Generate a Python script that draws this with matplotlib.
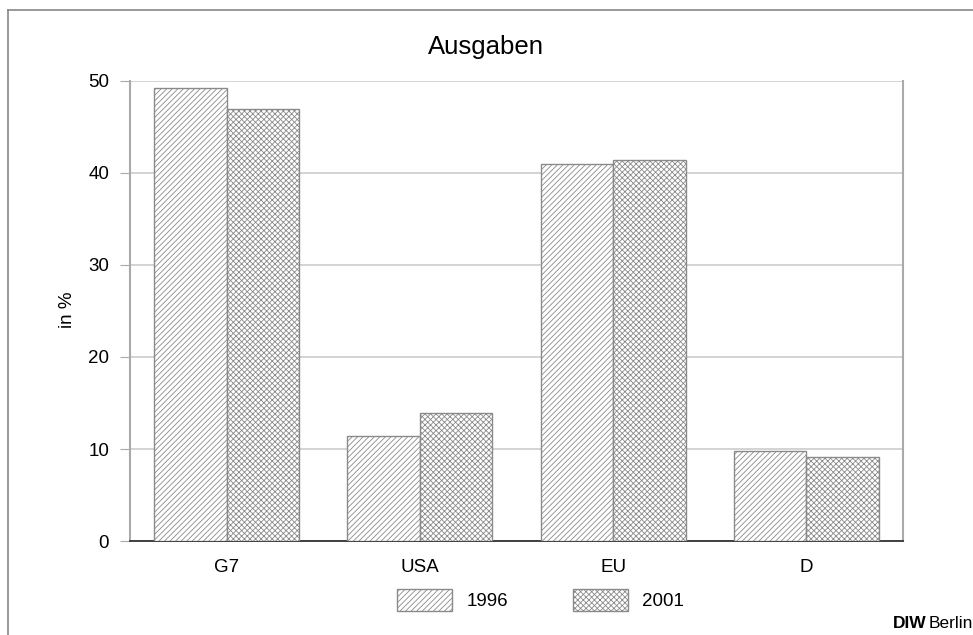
import numpy as np
import matplotlib
matplotlib.use("Agg")
import matplotlib.pyplot as plt
from matplotlib.lines import Line2D
from matplotlib import font_manager

plt.rcParams["font.family"] = ["Liberation Sans", "DejaVu Sans"]
plt.rcParams["hatch.linewidth"] = 0.6

# data
categories = ["G7", "USA", "EU", "D"]
years = ["1996", "2001"]
values_1996 = [49.2, 11.4, 41.0, 9.8]
values_2001 = [47.0, 13.9, 41.4, 9.1]
hatches = ["//////", "xxxxxx"]

W, H = 973, 635
fig = plt.figure(figsize=(W / 100, H / 100), dpi=100)
ax = fig.add_axes([130 / W, 1 - 541 / H, (903 - 130) / W, (541 - 81) / H])

x = np.arange(len(categories))
bw = 0.375
gray = "#8a8a8a"
for i, (vals, hatch, label) in enumerate(zip([values_1996, values_2001], hatches, years)):
    ax.bar(x + (i - 0.5) * bw, vals, width=bw, align="center",
           facecolor="white", edgecolor=gray, hatch=hatch, linewidth=1.0,
           label=label, zorder=3)

ax.set_xlim(-0.5, len(categories) - 0.5)
ax.set_ylim(0, 50)
ax.set_yticks([0, 10, 20, 30, 40, 50])
ax.set_xticks(x)
ax.set_xticklabels(categories)
ax.tick_params(axis="x", length=0, pad=13, labelsize=13.5)
ax.tick_params(axis="y", length=7, color="#aaaaaa", pad=8, labelsize=13.5)
ax.yaxis.grid(True, color="#cccccc", linewidth=1.2, zorder=0)
ax.set_axisbelow(True)

for side in ["left", "right"]:
    ax.spines[side].set_color("#aaaaaa")
    ax.spines[side].set_linewidth(1.5)
ax.spines["top"].set_visible(False)
ax.spines["bottom"].set_color("#333333")
ax.spines["bottom"].set_linewidth(1.3)

# title and y label placed where the reference has them
fig.text(486 / W, 1 - 54 / H, "Ausgaben", fontsize=18.5, ha="center", va="baseline")
fig.text(67 / W, 1 - 310 / H, "in %", fontsize=13.5, rotation=90,
         ha="center", va="center")

ax.legend(loc="center", bbox_to_anchor=(0.531, -0.128), ncol=2,
          frameon=False, fontsize=13.5, handlelength=2.93, handleheight=1.4,
          columnspacing=3.45, handletextpad=0.75)

# outer frame lines (left and top)
fig.add_artist(Line2D([8 / W, 8 / W], [0, 1 - 10 / H], transform=fig.transFigure,
                      color="#888888", linewidth=1.2))
fig.add_artist(Line2D([8 / W, 1], [1 - 10 / H, 1 - 10 / H], transform=fig.transFigure,
                      color="#888888", linewidth=1.2))

# source note, condensed like the original if a narrow face is around
names = {f.name for f in font_manager.fontManager.ttflist}
narrow = "Liberation Sans Narrow" in names
src_family = ["Liberation Sans Narrow", "Liberation Sans"] if narrow else ["Liberation Sans"]
src_size = 14 if narrow else 12.5
fig.text(893 / W, 1 - 624 / H, "DIW", fontsize=src_size, fontweight="bold",
         family=src_family, va="center")
fig.text((930 if narrow else 929) / W, 1 - 624 / H, "Berlin", fontsize=src_size,
         family=src_family, va="center")

fig.savefig("out.png", dpi=100)
